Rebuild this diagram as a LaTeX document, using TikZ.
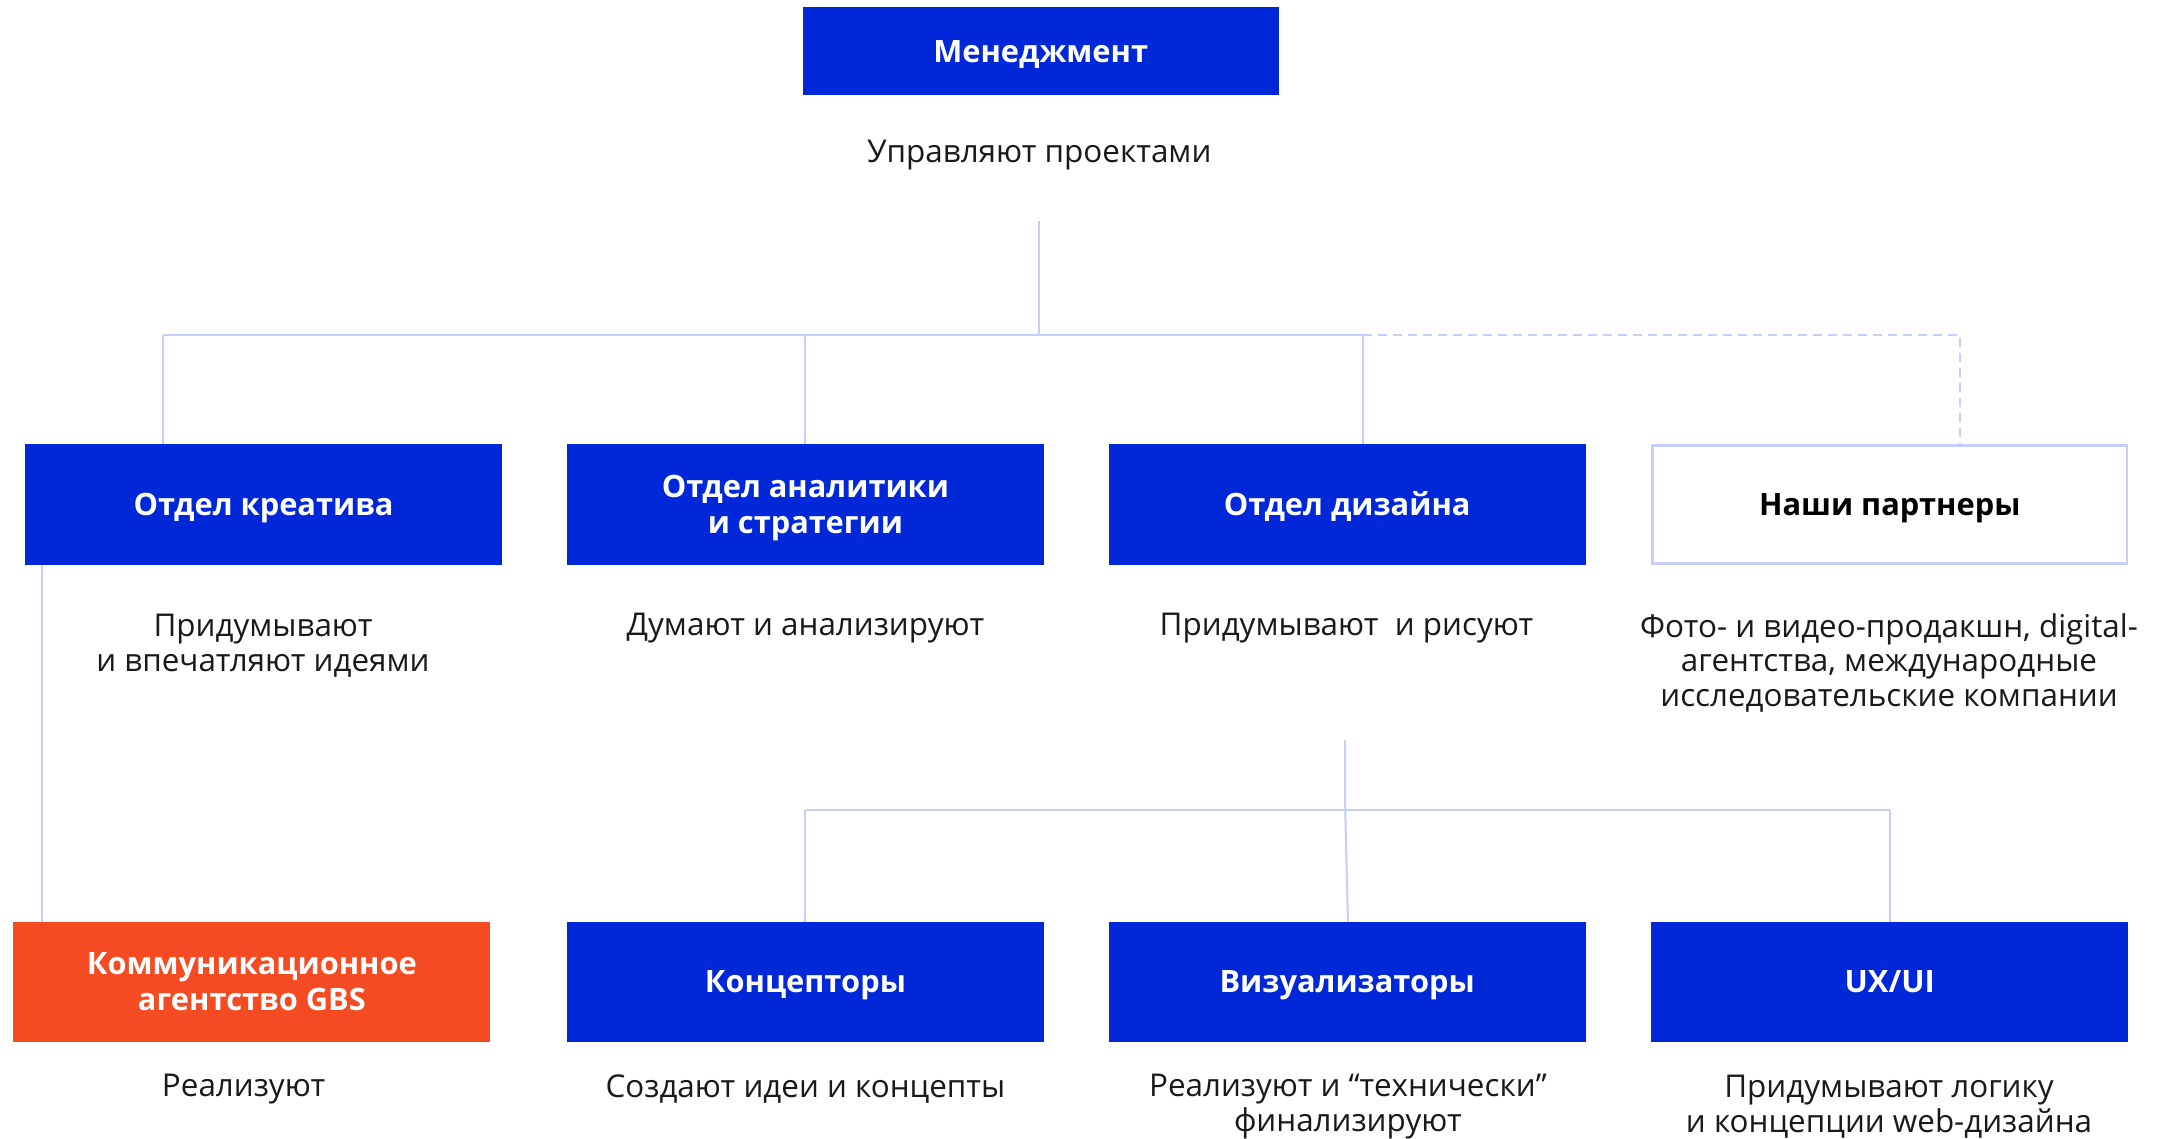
\documentclass[tikz,border=0pt]{standalone}
\usepackage{fontspec}
\setmainfont{Open Sans}
\definecolor{gbsblue}{RGB}{0,40,216}
\definecolor{gbsorange}{RGB}{244,75,34}
\definecolor{linec}{RGB}{197,207,250}
\begin{document}
\begin{tikzpicture}[x=1pt,y=-1pt,
  box/.style={rectangle,fill=gbsblue,text=white,minimum width=477pt,minimum height=120.4pt,inner sep=0pt,align=center,text height=22pt,text depth=0pt,font=\fontsize{30.8}{36}\selectfont\bfseries},
  twolines/.style={text height=58pt},
  obox/.style={box,fill=gbsorange},
  wbox/.style={box,fill=white,draw=linec,line width=2.5pt,text=black,minimum width=474.5pt,minimum height=118pt},
  desc/.style={align=center,inner sep=0pt,text=black!90,font=\fontsize{31.4}{34.6}\selectfont},
  conn/.style={draw=linec,line width=2pt},
  dconn/.style={conn,dash pattern=on 9pt off 6pt}]
\useasboundingbox[fill=white] (0,0) rectangle (2170,1139);
% nodes
\node[box,minimum width=476pt,minimum height=88.6pt] (mgmt) at (1040.7,51.2) {Менеджмент};
\node[desc] (mgmtd) at (1039.3,155) {Управляют проектами};
\node[box] (kre) at (263.6,504.4) {Отдел креатива};
\node[box,twolines] (ana) at (805.4,504.4) {Отдел аналитики\\и стратегии};
\node[box] (diz) at (1347.2,504.4) {Отдел дизайна};
\node[wbox] (par) at (1889.7,504.4) {Наши партнеры};
\node[desc] (kred) at (263,645.6) {Придумывают\\и впечатляют идеями};
\node[desc] (anad) at (805.4,628.3) {Думают и анализируют};
\node[desc] (dizd) at (1346.5,628.3) {Придумывают\ \ и рисуют};
\node[desc] (pard) at (1889,662.9) {Фото- и видео-продакшн, digital-\\агентства, международные\\исследовательские компании};
\node[obox,twolines] (gbs) at (251.9,981.9) {Коммуникационное\\агентство GBS};
\node[box] (kon) at (805.4,981.9) {Концепторы};
\node[box] (viz) at (1347.2,981.9) {Визуализаторы};
\node[box] (ux) at (1889.7,981.9) {UX/UI};
\node[desc] (gbsd) at (243.6,1089.2) {Реализуют};
\node[desc] (kond) at (805.4,1089.2) {Создают идеи и концепты};
\node[desc] (vizd) at (1347.9,1106.5) {Реализуют и “технически”\\финализируют};
\node[desc] (uxd) at (1889,1106.5) {Придумывают логику\\и концепции web-дизайна};
% connector coordinates
\coordinate (top) at (1039.3,221.4);
\coordinate (bus) at (1039.3,334.9);
\coordinate (busl) at (163.3,334.9);
\coordinate (busd) at (1363.1,334.9);
\coordinate (busr) at (1959.6,334.9);
\coordinate (krein) at (163.3,444.2);
\coordinate (dizin) at (1363.1,444.2);
\coordinate (parin) at (1959.6,444.2);
\coordinate (kreout) at (41.5,564.6);
\coordinate (gbsin) at (41.5,921.7);
\coordinate (top2) at (1345.2,740.4);
\coordinate (bus2) at (1345.2,809.6);
\coordinate (bus2l) at (805.4,809.6);
\coordinate (bus2r) at (1889.7,809.6);
\coordinate (vizin) at (1347.9,921.7);
% connectors
\draw[conn] (top) -- (bus);
\draw[conn] (busl) -- (busd);
\draw[conn] (busl) -- (krein);
\draw[conn] (ana.north |- busl) -- (ana.north);
\draw[conn] (busd) -- (dizin);
\draw[dconn] (busd) -- (busr) -- (parin);
\draw[conn] (kreout) -- (gbsin);
\draw[conn] (top2) -- (bus2) -- (vizin);
\draw[conn] (bus2l) -- (bus2r);
\draw[conn] (bus2l) -- (kon.north);
\draw[conn] (bus2r) -- (ux.north);
\end{tikzpicture}
\end{document}
